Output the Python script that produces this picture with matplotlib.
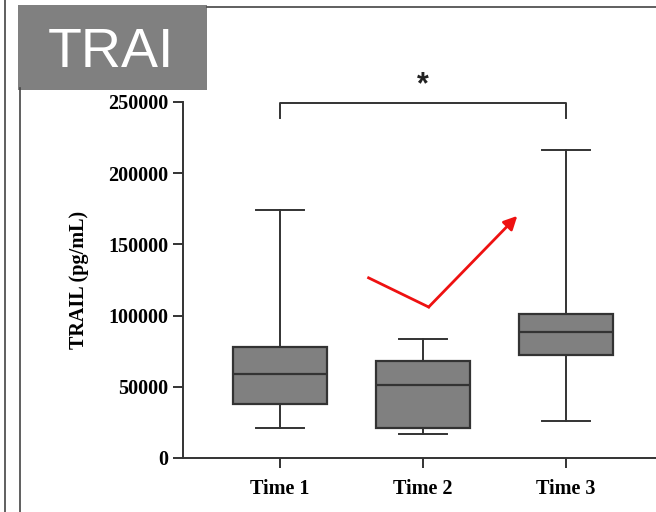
import matplotlib.pyplot as plt
from matplotlib.patches import Rectangle, FancyArrowPatch
from matplotlib.lines import Line2D

# Box summary values (pg/mL)
groups = ["Time 1", "Time 2", "Time 3"]
whisker_low = [21000, 17000, 26000]
q1 = [38000, 21000, 72500]
median = [59000, 51000, 88500]
q3 = [78000, 68000, 101000]
whisker_high = [174000, 83500, 216000]

yticks = [0, 50000, 100000, 150000, 200000, 250000]

# red trend arrow (x in group positions, y in pg/mL)
arrow_x = [1.62, 2.04, 2.66]
arrow_y = [126500, 106000, 170000]

plt.rcParams['font.family'] = ['Liberation Serif', 'DejaVu Serif']

fig = plt.figure(figsize=(6.56, 5.12), dpi=100)
ax = fig.add_axes([0.279, 0.1055, 0.721, 0.6953])

line_col = '#333333'
stats = []
for i, g in enumerate(groups):
    stats.append({'label': g, 'whislo': whisker_low[i], 'q1': q1[i],
                  'med': median[i], 'q3': q3[i], 'whishi': whisker_high[i],
                  'fliers': []})

ax.bxp(stats, positions=[1, 2, 3], widths=0.66, patch_artist=True,
       showfliers=False,
       boxprops=dict(facecolor='#808080', edgecolor=line_col, linewidth=1.6),
       medianprops=dict(color=line_col, linewidth=1.6),
       whiskerprops=dict(color=line_col, linewidth=1.4),
       capprops=dict(color=line_col, linewidth=1.4),
       capwidths=0.33)

ax.set_xlim(0.322, 3.63)
ax.set_ylim(0, 250000)
ax.set_yticks(yticks)
ax.set_yticklabels([str(v) for v in yticks])
for s in ['top', 'right']:
    ax.spines[s].set_visible(False)
for s in ['left', 'bottom']:
    ax.spines[s].set_color(line_col)
    ax.spines[s].set_linewidth(1.4)
ax.tick_params(axis='both', direction='out', length=7, width=1.4,
               color=line_col, labelsize=14.5)
for lab in ax.get_xticklabels() + ax.get_yticklabels():
    lab.set_fontweight('bold')
ax.tick_params(axis='x', pad=8)
ax.set_ylabel("TRAIL (pg/mL)", fontsize=14.5, fontweight='bold', labelpad=14)

# significance bracket
by = 249000
ax.plot([1, 1, 3, 3], [by - 10000, by, by, by - 10000], color=line_col,
        lw=1.4, clip_on=False)
ax.text(2, by + 2500, "*", ha='center', va='bottom', fontsize=22,
        fontweight='bold', color='#222222',
        family=['Liberation Sans', 'DejaVu Sans'])

# red arrow
ax.plot(arrow_x[:2], arrow_y[:2], color='#ee1111', lw=2)
ax.add_patch(FancyArrowPatch((arrow_x[1], arrow_y[1]), (arrow_x[2], arrow_y[2]),
                             arrowstyle='-|>', mutation_scale=20,
                             color='#ee1111', lw=2, shrinkA=0, shrinkB=0))

# screenshot frame lines and the grey label box
W, H = 656, 512
fig.add_artist(Line2D([5 / W, 5 / W], [0, 1], color='#444444', lw=1.2))
fig.add_artist(Line2D([20 / W, 20 / W], [0, 1 - 88 / H], color='#444444', lw=1.2))
fig.add_artist(Line2D([207 / W, 1], [1 - 7 / H, 1 - 7 / H], color='#444444', lw=1.2))
fig.add_artist(Rectangle((18 / W, 1 - 90 / H), 189 / W, 85 / H,
                         transform=fig.transFigure, facecolor='#808080',
                         edgecolor='none'))
fig.text(111 / W, 1 - 53 / H, "TRAI", color='white', fontsize=40,
         family=['Liberation Sans', 'DejaVu Sans'], ha='center', va='center')

fig.savefig("out.png", dpi=100)
